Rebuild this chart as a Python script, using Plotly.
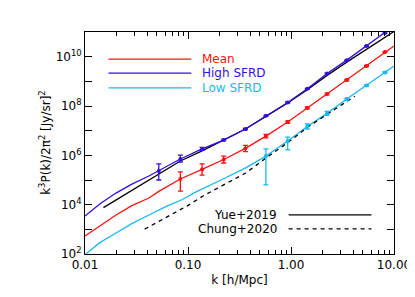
import plotly.graph_objects as go

# ---- data ----
k_pts = [0.052, 0.0843, 0.137, 0.222, 0.361, 0.571, 0.929, 1.44, 2.24, 3.48, 5.40, 8.18]

# High SFRD markers (all 12 k points)
high_p = [2.34e5, 7.08e5, 1.82e6, 4.17e6, 1.17e7, 3.98e7, 1.38e8, 5.01e8, 2.09e9, 7.24e9, 2.69e10, 9.12e10]
high_hi = [4.47e5, 1.02e6, 2.09e6, 4.5e6, 1.25e7, 4.2e7, 1.45e8, 5.2e8, 2.15e9, 7.4e9, 2.75e10, 9.3e10]
high_lo = [1.0e5, 5.37e5, 1.58e6, 3.85e6, 1.09e7, 3.78e7, 1.31e8, 4.8e8, 2.03e9, 7.08e9, 2.63e10, 8.95e10]

# Mean markers (k points 2..12)
mean_k = k_pts[1:]
mean_p = [1.10e5, 2.69e5, 6.76e5, 1.91e6, 6.03e6, 2.24e7, 8.32e7, 3.09e8, 1.12e9, 4.17e9, 1.55e10]
mean_hi = [2.14e5, 4.47e5, 9.33e5, 2.51e6, 7.08e6, 2.51e7, 9.1e7, 3.35e8, 1.2e9, 4.4e9, 1.6e10]
mean_lo = [3.55e4, 1.58e5, 4.9e5, 1.41e6, 5.13e6, 2.0e7, 7.6e7, 2.85e8, 1.05e9, 3.95e9, 1.5e10]

# Low SFRD markers (k points 6..12)
low_k = k_pts[5:]
low_p = [9.33e5, 3.80e6, 1.48e7, 5.01e7, 1.91e8, 6.76e8, 2.29e9]
low_hi = [1.82e6, 5.5e6, 1.86e7, 6.03e7, 2.09e8, 7.24e8, 2.45e9]
low_lo = [6.31e4, 1.66e6, 1.17e7, 4.17e7, 1.74e8, 6.31e8, 2.14e9]

# model curves
mean_line_k = [0.01, 0.0141, 0.020, 0.0282, 0.0417, 0.0525] + mean_k + [10.0]
mean_line_p = [537, 1.41e3, 3.8e3, 8.9e3, 1.86e4, 3.55e4] + mean_p + [2.69e10]

high_line_k = [0.01, 0.0141, 0.020, 0.0282, 0.0417] + k_pts + [10.0]
high_line_p = [3.47e3, 1.12e4, 2.95e4, 6.6e4, 1.45e5] + high_p + [1.78e11]

low_line_k = [0.01, 0.0138, 0.020, 0.0282, 0.0417, 0.0631, 0.0871, 0.120, 0.219, 0.363] + low_k + [10.0]
low_line_p = [93.3, 282, 708, 1.66e3, 3.8e3, 8.91e3, 1.58e4, 3.31e4, 1.10e5, 3.09e5] + low_p + [4.17e9]

yue_k = [0.0151, 0.0288, 0.052, 0.0843, 0.137, 0.222, 0.361, 0.571, 0.929, 1.44, 2.24, 3.48, 5.40, 8.18, 10.0]
yue_p = [7.59e3, 3.98e4, 1.78e5, 5.89e5, 1.51e6, 4.17e6, 1.17e7, 3.8e7, 1.32e8, 4.57e8, 1.74e9, 6.03e9, 2.0e10, 6.31e10, 1.05e11]

chung_k = [0.038, 0.102, 0.141, 0.363, 0.575, 0.933, 1.445, 2.29, 4.17]
chung_p = [1.02e3, 9.77e3, 2.29e4, 1.91e5, 7.94e5, 3.3e6, 1.38e7, 4.9e7, 2.5e8]

x_ticks = [0.01, 0.1, 1, 10]
x_ticklabels = ["0.01", "0.10", "1.00", "10.00"]
y_ticks = [1e2, 1e4, 1e6, 1e8, 1e10]
y_ticklabels = ["10<sup>2</sup>", "10<sup>4</sup>", "10<sup>6</sup>", "10<sup>8</sup>", "10<sup>10</sup>"]

RED = "#ff1010"
BLUE = "#3010e0"
CYAN = "#18b8f0"
FONT = "DejaVu Sans"

fig = go.Figure()

def line(xs, ys, color, dash="solid"):
    fig.add_trace(go.Scatter(x=xs, y=ys, mode="lines",
                             line=dict(color=color, width=1.3, dash=dash),
                             showlegend=False, hoverinfo="skip"))

def pts(xs, ys, hi, lo, color):
    fig.add_trace(go.Scatter(
        x=xs, y=ys, mode="markers",
        marker=dict(color=color, size=4),
        error_y=dict(type="data", symmetric=False,
                     array=[h - y for h, y in zip(hi, ys)],
                     arrayminus=[y - l for l, y in zip(lo, ys)],
                     color=color, thickness=1.3, width=2.5),
        showlegend=False, hoverinfo="skip"))

line(low_line_k, low_line_p, CYAN)
line(chung_k, chung_p, "black", dash="4px,4px")
line(mean_line_k, mean_line_p, RED)
line(yue_k, yue_p, "black")
line(high_line_k, high_line_p, BLUE)
pts(low_k, low_p, low_hi, low_lo, CYAN)
pts(mean_k, mean_p, mean_hi, mean_lo, RED)
pts(k_pts, high_p, high_hi, high_lo, BLUE)

# legend drawn manually (paper coordinates)
shapes = []
annotations = []
top_items = [("Mean", RED, 0.878), ("High SFRD", BLUE, 0.815), ("Low SFRD", CYAN, 0.748)]
for name, col, yy in top_items:
    shapes.append(dict(type="line", xref="paper", yref="paper", x0=0.076, x1=0.344, y0=yy, y1=yy,
                       line=dict(color=col, width=1.3)))
    annotations.append(dict(xref="paper", yref="paper", x=0.372, y=yy, text=name, showarrow=False,
                            xanchor="left", yanchor="middle", font=dict(color=col, size=12, family=FONT)))
bot_items = [("Yue+2019", "solid", 0.176), ("Chung+2020", "4px,4px", 0.113)]
for name, dsh, yy in bot_items:
    shapes.append(dict(type="line", xref="paper", yref="paper", x0=0.659, x1=0.927, y0=yy, y1=yy,
                       line=dict(color="black", width=1.3, dash=dsh)))
    annotations.append(dict(xref="paper", yref="paper", x=0.627, y=yy, text=name, showarrow=False,
                            xanchor="right", yanchor="middle", font=dict(color="black", size=12, family=FONT)))

# y-axis title as rotated annotation
annotations.append(dict(xref="paper", yref="paper", x=-0.13, y=0.5, textangle=-90,
                        text="k<sup>3</sup>P(k)/2π<sup>2</sup> [Jy/sr]<sup>2</sup>",
                        showarrow=False, xanchor="center", yanchor="middle",
                        font=dict(color="black", size=12, family=FONT)))

fig.update_layout(
    width=415, height=297,
    margin=dict(l=77, r=24, t=24, b=51),
    paper_bgcolor="white", plot_bgcolor="white",
    font=dict(family=FONT, size=12, color="black"),
    shapes=shapes, annotations=annotations,
    showlegend=False,
)
fig.update_xaxes(
    type="log", range=[-2, 1],
    tickmode="array", tickvals=x_ticks, ticktext=x_ticklabels,
    ticks="inside", ticklen=7, tickwidth=1, tickcolor="black",
    minor=dict(ticks="inside", ticklen=4, tickcolor="black",
               tickvals=[m * d for d in [0.01, 0.1, 1] for m in range(2, 10)]),
    showline=True, linecolor="black", linewidth=1, mirror="ticks",
    showgrid=False, zeroline=False,
    title=dict(text="k [h/Mpc]", standoff=4, font=dict(size=12)),
    tickfont=dict(size=12),
)
fig.update_yaxes(
    type="log", range=[2, 11],
    tickmode="array", tickvals=y_ticks, ticktext=y_ticklabels,
    ticks="inside", ticklen=7, tickwidth=1, tickcolor="black",
    minor=dict(ticks="inside", ticklen=7, tickcolor="black",
               tickvals=[1e3, 1e5, 1e7, 1e9, 1e11]),
    showline=True, linecolor="black", linewidth=1, mirror="ticks",
    showgrid=False, zeroline=False,
    tickfont=dict(size=12),
)

fig.write_html("out.html")
